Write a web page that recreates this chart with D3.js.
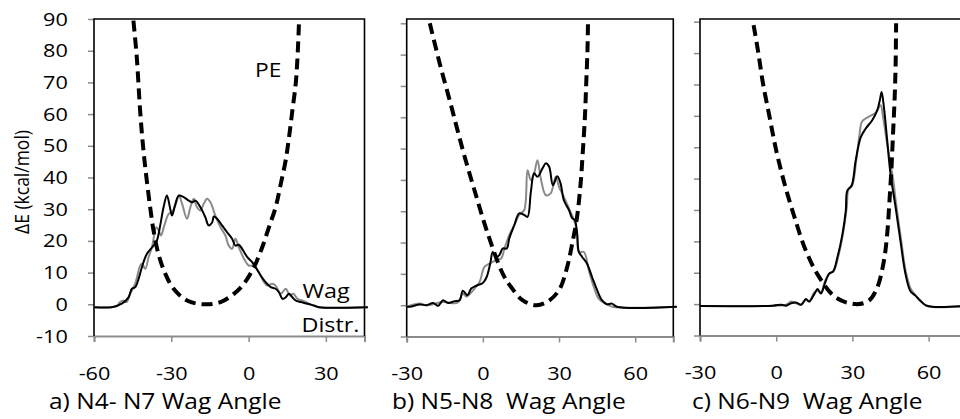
<!DOCTYPE html>
<html><head><meta charset="utf-8">
<script src="https://cdn.jsdelivr.net/npm/d3@7"></script>
<style>
html,body{margin:0;padding:0;background:#fff;}
svg text{font-family:"Open Sans",sans-serif;fill:#000;white-space:pre;}
</style></head>
<body><svg id="c" width="960" height="419"></svg>
<script>
// ---- data ----
const yTicks = [-10,0,10,20,30,40,50,60,70,80,90];
const xTicksA = [-60,-30,0,30];
const xTicksBC = [-30,0,30,60];
const titles = ["a) N4- N7 Wag Angle","b) N5-N8  Wag Angle","c) N6-N9  Wag Angle"];
const yLabel = "\u0394E (kcal/mol)";

const peA = [[-44.7,89.5],[-43.4,78],[-42.1,61.1],[-40.8,48.5],[-39.5,39],[-38.2,30.6],[-36.9,23.3],[-35.0,15.9],[-32.3,9.6],[-29.1,4.9],[-23.9,1.2],[-17.4,0],[-10.9,0.7],[-5.7,3.3],[-1.8,6.5],[2.1,11.7],[5.3,18.0],[7.9,24.3],[10.5,30.6],[12.5,38],[14.4,45.4],[15.7,52.7],[17.0,61.1],[18.3,69.6],[19.0,78],[19.6,89.5]];
const peB = [[-20.9,90],[-17.0,77.2],[-12.4,63.4],[-7.9,49.5],[-3.3,36.7],[1.9,22.9],[7.8,10.1],[11.1,5.8],[15.6,1.6],[20.8,0],[25.4,1.1],[30.0,4.8],[33.2,12.2],[35.2,19.7],[37.1,28.2],[38.5,38.9],[39.4,49.5],[40.2,60.2],[40.7,70.8],[41.2,81.5],[41.4,90]];
const peC = [[-8.9,88.9],[-7.2,80.9],[-5.2,70.3],[-2.6,59.6],[0.0,49.0],[3.3,38.3],[7.2,27.7],[11.7,17.0],[17.0,8.5],[23.5,2.1],[31.3,0],[36.5,1.1],[39.8,5.3],[42.4,13.8],[43.7,22.4],[44.6,33.0],[45.4,43.6],[46.0,54.3],[46.6,65.0],[47.0,75.6],[47.2,89.5]];

const distA_black = [[-60,-0.9],[-53.1,-0.9],[-49.2,0.2],[-46.6,2.2],[-45.3,4.9],[-44.0,5.4],[-42.7,8.0],[-41.4,11.7],[-39.5,15.9],[-36.9,18.5],[-35.6,20.1],[-34.3,24.9],[-33.0,30.6],[-31.7,34.3],[-30.4,30.1],[-29.7,28],[-28.4,31.7],[-27.1,34.3],[-25.2,33.8],[-23.2,32.7],[-21.9,32.2],[-20.6,32.7],[-18.7,30.6],[-16.8,27.5],[-15.5,24.9],[-14.1,25.9],[-13.5,27.7],[-12.2,27],[-10.3,24.9],[-8.3,22.7],[-6.4,20.7],[-5.1,18.5],[-3.8,18.8],[-2.5,17.5],[-0.5,14.9],[1.4,13.3],[3.1,11.2],[4.7,9.1],[6.6,7.0],[8.6,5.4],[10.5,4.9],[11.8,3.8],[13.2,1.7],[14.4,2.2],[15.7,3.3],[17.0,2.2],[18.3,1.2],[20.2,0.7],[22.9,0.2],[25.4,-0.4],[27.4,-0.9],[46.3,-0.9]];
const distA_gray = [[-60,-0.9],[-51.2,-0.6],[-49.9,0.7],[-48.6,1.2],[-47.3,0.7],[-46.0,3.3],[-44.0,6.5],[-42.1,12.2],[-41.4,12.8],[-40.1,11.2],[-38.8,14.9],[-37.5,18],[-35.8,24.3],[-34.9,23.3],[-34.0,21.7],[-32.7,24.9],[-31.0,28.5],[-29.7,29.1],[-28.4,31.2],[-27.1,34.3],[-25.8,31.7],[-23.9,27.0],[-22.6,30.6],[-21.3,33.3],[-20.0,30.6],[-18.7,29.6],[-17.4,31.7],[-16.1,33.3],[-14.8,32.2],[-12.9,28],[-10.9,24.3],[-9.0,21.7],[-7.7,18.5],[-6.4,17.5],[-5.1,20.7],[-3.8,18.0],[-1.8,14.4],[0.1,12.2],[2.1,12.2],[4.0,10.1],[6.0,7.0],[7.3,5.9],[9.2,6.5],[10.5,5.9],[12.5,3.3],[14.4,4.9],[16.1,2.8],[17.4,3.3],[19.0,1.7],[20.9,1.2],[24,0],[27,-0.9],[46.3,-0.9]];

const distB_black = [[-30,-0.5],[-28.7,-0.5],[-24.8,0.2],[-22.2,0],[-19.6,0.7],[-17.6,-0.2],[-15.7,1.6],[-13.7,0.7],[-11.1,1.3],[-9.1,1.6],[-7.9,4.6],[-6.1,3.2],[-4.6,5.3],[-2.6,6.2],[0,7.1],[1.5,9.0],[2.9,13.3],[3.9,17.0],[5.2,15.4],[6.5,16.0],[7.8,18.1],[9.4,18.1],[10.4,21.3],[12.4,25.6],[14.3,29.3],[16.3,28.8],[17.6,28.2],[18.9,36.2],[20.2,42.1],[21.5,41.0],[23.5,43.7],[24.8,45.3],[26.1,44.2],[27.6,38.3],[29.3,41.2],[30.6,38.9],[31.9,33.5],[33.9,30.4],[35.2,27.7],[36.2,27.2],[37.1,22.9],[37.8,17.0],[39.1,15.4],[41.0,13.3],[43.0,9.0],[45.0,4.8],[46.9,1.6],[48.9,0.3],[50.8,0.5],[52.8,-0.5],[76.4,-0.5]];
const distB_gray = [[-30,-0.5],[-24.8,0.5],[-22.2,0],[-15.7,1.0],[-10,0.8],[-7.9,3.7],[-6.5,2.7],[-3.3,5.3],[-1.3,7.4],[0.6,12.2],[2.6,13.3],[5.2,14.4],[7.2,14.9],[8.5,18.1],[10.4,22.4],[12.4,25.6],[14.3,28.8],[16.3,30.4],[17.6,43.1],[18.9,39.9],[20.2,42.1],[21.5,46.3],[22.8,40.5],[24.8,35.1],[26.7,35.7],[28.7,41.0],[30.0,37.8],[31.9,34.6],[33.9,30.9],[35.9,27.2],[37.1,23.4],[37.8,17.0],[39.8,17.0],[41.7,11.2],[43.7,5.8],[45.6,2.1],[48.2,0.5],[51,-0.5],[76.4,-0.5]];

const distC_black = [[-30,-0.6],[-1.3,-0.5],[2.0,-0.2],[3.9,-0.5],[5.9,0.3],[7.8,0.5],[9.8,-0.2],[11.7,1.6],[13.0,0.8],[15.0,3.2],[16.3,4.8],[17.6,3.4],[19.3,6.9],[20.9,9.8],[22.4,10.4],[24.1,14.9],[26.1,22.4],[27.4,29.8],[28.0,36.2],[29.7,37.8],[31.3,45.8],[33.3,53.2],[35.2,55.9],[37.8,58.6],[39.8,61.8],[40.8,65],[41.5,67.6],[42.4,62.8],[43.7,52.2],[45.0,41.5],[47.0,30.9],[48.9,20.2],[50.9,9.6],[52.8,4.2],[54.8,2.7],[56.7,1.1],[59.3,-0.5],[75,-0.5]];
const distC_gray = [[-30,-0.6],[-1.3,-0.5],[3.9,-0.2],[5.9,0.8],[7.8,0.3],[9.8,-0.2],[11.7,1.3],[13,0.9],[15,3.7],[16.3,4.3],[17.6,3.6],[19.3,7.5],[20.9,9.6],[22.7,10.7],[24.5,15.4],[26.4,22.9],[27.8,30.9],[28.4,36.4],[29.9,37.8],[31.6,46.3],[32.8,54],[33.8,58.2],[36,59.5],[39.2,61],[41.1,63.4],[42,60],[43.5,52],[45,44.5],[46,40],[47.2,32],[49,21.5],[51,10.5],[53,4.8],[55,2.7],[57,1.0],[59.5,-0.6],[75,-0.6]];

// ---- layout ----
const SX = 1.14; // horizontal text stretch
const panels = [
  {xd:[-60,45], xr:[94,364.5], yr:[336,19], top:19, xt:xTicksA, labels:true, pe:peA, blk:distA_black, gry:distA_gray, title:titles[0], tx:49},
  {xd:[-30,75], xr:[406.7,673.3], yr:[336.5,23.3], top:19, xt:xTicksBC, labels:false, pe:peB, blk:distB_black, gry:distB_gray, title:titles[1], tx:392},
  {xd:[-30,75], xr:[700,966.7], yr:[335.5,21.7], top:19, xt:xTicksBC, labels:false, pe:peC, blk:distC_black, gry:distC_gray, title:titles[2], tx:692}
];
const fmt = d => String(d); // plain hyphen-minus, as in the original

const svg = d3.select("#c");
panels.forEach(p => {
  const x = d3.scaleLinear().domain(p.xd).range(p.xr);
  const y = d3.scaleLinear().domain([-10,90]).range(p.yr);
  const g = svg.append("g");
  const L = p.xr[0], R = p.xr[1], B = p.yr[0], T = p.top;

  // y axis ticks
  const ya = g.append("g").attr("transform",`translate(${L},0)`)
    .call(d3.axisLeft(y).tickValues(yTicks).tickSize(6).tickPadding(17)
      .tickFormat(p.labels ? fmt : () => ""));
  ya.select(".domain").remove();
  ya.selectAll(".tick line").attr("stroke","#8c8c8c").attr("stroke-width",1.5);
  ya.selectAll(".tick text").style("font-size","19px").attr("fill","#000")
    .attr("transform",`scale(${SX},1)`);

  // x axis
  const xa = g.append("g").attr("transform",`translate(0,${B})`)
    .call(d3.axisBottom(x).tickValues(p.xt).tickSize(6).tickFormat(fmt));
  xa.select(".domain").attr("stroke","#8c8c8c").attr("stroke-width",2);
  xa.selectAll(".tick line").attr("stroke","#8c8c8c").attr("stroke-width",1.5);
  xa.selectAll(".tick text").style("font-size","19px").attr("fill","#000")
    .attr("y",44).attr("dy",0).attr("transform",`scale(${SX},1)`);

  // frame: left, top, right
  g.append("path").attr("d",`M${L},${B}V${T}H${R}V${B}`)
    .attr("fill","none").attr("stroke","#000").attr("stroke-width",1.6);

  const line = d3.line().x(d=>x(d[0])).y(d=>y(d[1])).curve(d3.curveCatmullRom.alpha(0.5));
  g.append("path").datum(p.gry).attr("d",line).attr("fill","none")
    .attr("stroke","#8a8a8a").attr("stroke-width",2);
  g.append("path").datum(p.blk).attr("d",line).attr("fill","none")
    .attr("stroke","#000").attr("stroke-width",2);
  g.append("path").datum(p.pe).attr("d",line).attr("fill","none")
    .attr("stroke","#000").attr("stroke-width",4).attr("stroke-dasharray","11,6");

  // title
  svg.append("text").attr("transform",`translate(${p.tx},409) scale(${SX},1)`)
    .style("font-size","21.5px").text(p.title);
});

// annotations in panel a
svg.append("text").attr("transform",`translate(255,77) scale(${SX},1)`).style("font-size","20px").text("PE");
svg.append("text").attr("transform",`translate(302.5,298) scale(${SX},1)`).style("font-size","20.5px").text("Wag");
svg.append("text").attr("transform",`translate(301.5,331.5) scale(${SX},1)`).style("font-size","20.5px").text("Distr.");
svg.append("text").attr("transform","translate(29,182) rotate(-90) scale(1,1.14)")
  .attr("text-anchor","middle").style("font-size","17.5px").text(yLabel);
</script></body></html>
